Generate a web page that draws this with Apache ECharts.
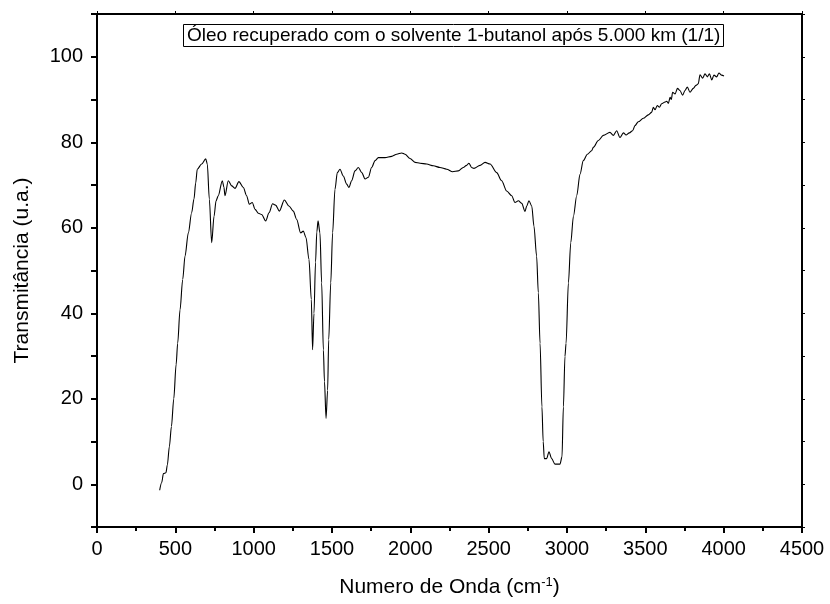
<!DOCTYPE html>
<html>
<head>
<meta charset="utf-8">
<script src="https://cdn.jsdelivr.net/npm/echarts@6/dist/echarts.min.js"></script>
<style>
  html, body { margin: 0; padding: 0; background: #fff; }
  #chart { width: 830px; height: 604px; }
</style>
</head>
<body>
<div id="chart"></div>
<script>
// FTIR spectrum: wavenumber (cm-1) and transmittance (a.u.)
const wavenumber = [
  400, 413, 424, 440, 449, 462, 475, 490, 505, 515, 530, 547, 562, 583, 604, 619, 630, 640, 668, 694,
  704, 717, 732, 747, 760, 774, 800, 810, 817, 838, 860, 881, 906, 934, 955, 972, 991, 1009, 1030, 1051,
  1077, 1098, 1121, 1140, 1164, 1196, 1225, 1253, 1274, 1300, 1317, 1334, 1353, 1368, 1376, 1385, 1395, 1403, 1411, 1423,
  1434, 1445, 1452, 1462, 1472, 1479, 1492, 1504, 1519, 1534, 1551, 1572, 1594, 1608, 1625, 1647, 1668, 1690, 1711, 1732,
  1753, 1775, 1796, 1838, 1881, 1913, 1945, 1966, 1998, 2030, 2062, 2104, 2147, 2189, 2232, 2270, 2306, 2338, 2359, 2374,
  2391, 2406, 2445, 2477, 2509, 2551, 2583, 2615, 2647, 2668, 2690, 2711, 2732, 2743, 2757, 2775, 2789, 2806, 2817, 2828,
  2840, 2848, 2855, 2870, 2885, 2902, 2923, 2955, 2968, 2977, 2987, 2994, 3009, 3024, 3041, 3062, 3083, 3104, 3130, 3157,
  3168, 3200, 3232, 3274, 3296, 3317, 3338, 3360, 3377, 3398, 3419, 3434, 3455, 3487, 3519, 3540, 3551, 3562, 3576, 3590,
  3604, 3626, 3636, 3647, 3658, 3666, 3674, 3690, 3705, 3721, 3738, 3753, 3768, 3785, 3806, 3823, 3838, 3849, 3866, 3881,
  3896, 3909, 3924, 3938, 3955, 3970, 3987, 4002
];
const transmittance = [
  -1.4, 0.4, 2.5, 2.7, 4.5, 8.8, 13.5, 20, 28, 33, 40.8, 47.9, 53.4, 58.8, 63.5, 66.7, 70.5, 73.7, 74.9, 76.1,
  74.9, 66.7, 56.5, 62.7, 66.3, 67.5, 71, 69.5, 67.5, 71, 69.8, 69.2, 70.8, 69.4, 67.5, 65.5, 65.9, 64.3, 63.4, 63.1,
  61.6, 63.5, 65.6, 65.3, 63.9, 66.5, 65.1, 63.9, 62, 58.8, 59.2, 57.7, 52.6, 43.2, 31.5, 40, 52, 59, 61.6, 58.8,
  47.1, 31.4, 24, 15.4, 22, 33.8, 47.1, 58.8, 69, 72.9, 73.7, 72.1, 70.2, 69.4, 71, 73.3, 74.1, 72.9, 71.4, 71.8,
  74.1, 75.7, 76.4, 76.4, 76.7, 77.2, 77.5, 77.2, 76.2, 75.3, 75.1, 74.9, 74.5, 74.1, 73.7, 73.1, 73.3, 74.1, 74.6, 75.1,
  74.1, 73.9, 74.6, 75.3, 74.9, 72.9, 71, 68.6, 67.5, 65.9, 66.3, 65.7, 63.8, 65.1, 66.3, 65.1, 60.4, 53.4, 44.8, 33,
  18.1, 10, 6, 6, 7.6, 6, 4.7, 4.7, 6.4, 18.1, 29.9, 33, 47.1, 56.5, 62.7, 67.5, 72.5, 75.7, 77.2, 78,
  78.8, 80.4, 81.6, 82.3, 81.6, 82.7, 81.1, 82.2, 81.7, 82.2, 82.7, 83.9, 84.8, 85.6, 86.4, 87, 88.2, 87.6, 88.6, 88.2,
  89, 89.4, 89.6, 89.1, 90.5, 90, 91.7, 91.3, 92.6, 92.1, 91, 92.1, 92.9, 91.7, 92.6, 93.3, 93.7, 95.8, 95, 96,
  95.3, 96, 94.6, 95.7, 95.3, 96.2, 95.7, 95.5
];

const titleText = 'Óleo recuperado com o solvente 1-butanol após 5.000 km (1/1)';
const xTitle = 'Numero de Onda (cm';
const yTitle = 'Transmitância (u.a.)';

const FONT = '"Liberation Sans", Arial, sans-serif';
const seriesData = wavenumber.map((w, i) => [w, transmittance[i]]);

const chart = echarts.init(document.getElementById('chart'), null, { renderer: 'canvas' });

const axisLine = { show: true, onZero: false, lineStyle: { color: '#000', width: 2 } };

chart.setOption({
  animation: false,
  backgroundColor: '#fff',
  title: {
    text: titleText,
    left: 183,
    top: 24,
    padding: [1, 3, 1, 4],
    borderColor: '#000',
    borderWidth: 1,
    textStyle: { fontFamily: FONT, fontSize: 19, fontWeight: 'normal', color: '#000', lineHeight: 21 }
  },
  grid: { left: 97, right: 28, top: 14, bottom: 77, containLabel: false },
  xAxis: [
    {
      type: 'value', min: 0, max: 4500, interval: 500,
      position: 'bottom',
      name: xTitle + '{sup|-1}{p|)}',
      nameLocation: 'middle', nameGap: 49,
      nameTextStyle: {
        fontFamily: FONT, fontSize: 21, color: '#000',
        rich: {
          sup: { fontFamily: FONT, fontSize: 13, color: '#000', verticalAlign: 'top', padding: [0, 0, 10, 0] },
          p: { fontFamily: FONT, fontSize: 21, color: '#000' }
        }
      },
      axisLine: axisLine,
      axisTick: { show: true, inside: false, length: 6, lineStyle: { color: '#000', width: 2 } },
      minorTick: { show: true, splitNumber: 2, length: 4, lineStyle: { color: '#000', width: 2 } },
      axisLabel: {
        fontFamily: FONT, fontSize: 20, color: '#000', margin: 12, showMaxLabel: true,
        formatter: v => String(v)
      },
      splitLine: { show: false }
    },
    {
      type: 'value', min: 0, max: 4500, interval: 500,
      position: 'top',
      axisLine: axisLine,
      axisTick: { show: true, inside: false, length: 3, lineStyle: { color: '#000', width: 1 } },
      minorTick: { show: false },
      axisLabel: { show: false },
      splitLine: { show: false }
    }
  ],
  yAxis: [
    {
      type: 'value', min: -10, max: 110, interval: 10,
      position: 'left',
      name: yTitle,
      nameLocation: 'middle', nameGap: 64, nameRotate: 90,
      nameTextStyle: { fontFamily: FONT, fontSize: 21, color: '#000' },
      axisLine: axisLine,
      axisTick: { show: true, inside: false, length: 6, lineStyle: { color: '#000', width: 2 } },
      minorTick: { show: false },
      axisLabel: {
        fontFamily: FONT, fontSize: 20, color: '#000', margin: 14,
        formatter: v => (v >= 0 && v <= 100 && v % 20 === 0) ? String(v) : ''
      },
      splitLine: { show: false }
    },
    {
      type: 'value', min: -10, max: 110, interval: 10,
      position: 'right',
      axisLine: axisLine,
      axisTick: { show: true, inside: false, length: 3, lineStyle: { color: '#000', width: 1 } },
      axisLabel: { show: false },
      splitLine: { show: false }
    }
  ],
  series: [{
    type: 'line',
    xAxisIndex: 0,
    yAxisIndex: 0,
    data: seriesData,
    showSymbol: false,
    smooth: 0.3,
    smoothMonotone: 'x',
    lineStyle: { color: '#000', width: 1.1 },
    clip: true
  }]
});
</script>
</body>
</html>
